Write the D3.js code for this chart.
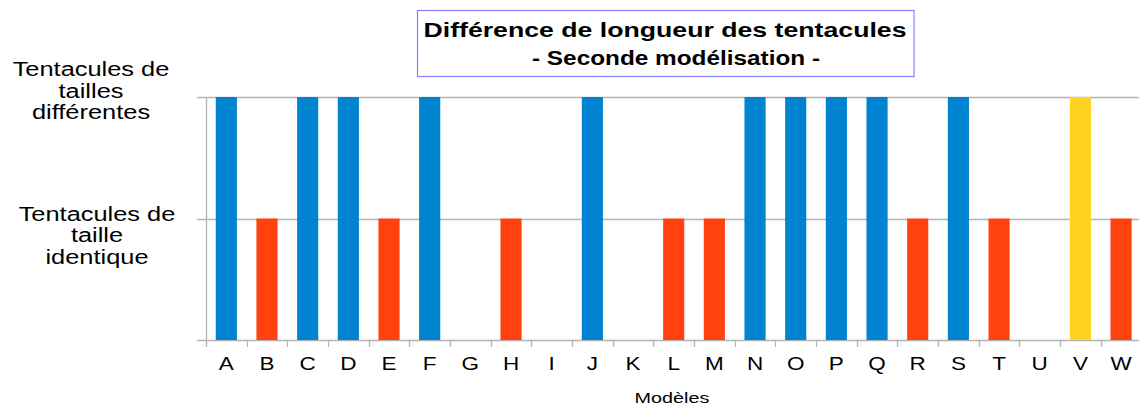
<!DOCTYPE html>
<html>
<head>
<meta charset="utf-8">
<script src="https://cdn.jsdelivr.net/npm/d3@7"></script>
<style>
  body { margin: 0; background: #fff; }
  text { font-family: "Liberation Sans", Arial, sans-serif; fill: #000; }
</style>
</head>
<body>
<svg id="svg"></svg>
<script>
// 0 = nothing, 1 = same size, 2 = different sizes
const models = ['A','B','C','D','E','F','G','H','I','J','K','L','M','N','O','P','Q','R','S','T','U','V','W'];
const values = [2, 1, 2, 2, 1, 2, 0, 1, 0, 2, 0, 1, 1, 2, 2, 2, 2, 1, 2, 1, 0, 2, 1];
const highlighted = ['V'];
const yTicks = [0, 1, 2];
const yTickLabels = {
  1: ['Tentacules de', 'taille', 'identique'],
  2: ['Tentacules de', 'tailles', 'différentes']
};
const titleLines = ['Différence de longueur des tentacules', '- Seconde modélisation -'];
const xTitle = 'Modèles';

const width = 1139, height = 406;
const blue = '#0084d1', red = '#ff420e', yellow = '#ffd320', grid = '#b3b3b3';

const svg = d3.select('#svg').attr('width', width).attr('height', height);

const x = d3.scaleBand().domain(models).range([206, 1141.4]).paddingInner(0.48).paddingOuter(0.24);
const xb = d3.scaleBand().domain(models).range([206, 1141.4]);
const y = d3.scaleLinear().domain([0, 2]).range([340, 97]);

// gridlines
svg.append('g').selectAll('line').data(yTicks).enter().append('line')
  .attr('x1', 197).attr('x2', width)
  .attr('y1', d => Math.round(y(d)) + 0.5).attr('y2', d => Math.round(y(d)) + 0.5)
  .attr('stroke', grid).attr('stroke-width', 1.3);

// y axis line
svg.append('line')
  .attr('x1', 206.5).attr('x2', 206.5)
  .attr('y1', y(2)).attr('y2', y(0) + 7)
  .attr('stroke', grid).attr('stroke-width', 1.3);

// x ticks at band boundaries
svg.append('g').selectAll('line').data(models.slice(1)).enter().append('line')
  .attr('x1', d => Math.round(xb(d)) + 0.5).attr('x2', d => Math.round(xb(d)) + 0.5)
  .attr('y1', y(0)).attr('y2', y(0) + 7)
  .attr('stroke', grid).attr('stroke-width', 1.3);

// bars
svg.append('g').selectAll('rect').data(models).enter().append('rect')
  .attr('x', d => x(d))
  .attr('width', x.bandwidth())
  .attr('y', (d, i) => y(values[i]))
  .attr('height', (d, i) => y(0) - y(values[i]))
  .attr('fill', (d, i) => highlighted.includes(d) ? yellow : (values[i] === 2 ? blue : red));

// category labels
svg.append('g').selectAll('text').data(models).enter().append('text')
  .attr('text-anchor', 'middle')
  .attr('font-size', 18)
  .attr('transform', d => `translate(${xb(d) + xb.bandwidth() / 2},369.5) scale(1.25,1)`)
  .text(d => d);

// x title
svg.append('text')
  .attr('text-anchor', 'middle')
  .attr('font-size', 15)
  .attr('transform', 'translate(672,403) scale(1.32,1)')
  .text(xTitle);

// y tick labels
const yLab = [
  { v: 2, cx: 91, dy: -21 },
  { v: 1, cx: 97, dy: 2 }
];
yLab.forEach(l => {
  yTickLabels[l.v].forEach((line, k) => {
    svg.append('text')
      .attr('text-anchor', 'middle')
      .attr('font-size', 20)
      .attr('transform', `translate(${l.cx},${y(l.v) + l.dy + k * 21.5}) scale(1.27,1)`)
      .text(line);
  });
});

// title box
svg.append('rect')
  .attr('x', 417.5).attr('y', 10.5).attr('width', 496.5).attr('height', 66)
  .attr('fill', '#fff').attr('stroke', '#8080ff').attr('stroke-width', 1.2);

svg.append('text')
  .attr('x', 423.5).attr('y', 37)
  .attr('font-family', '"Comic Sans MS", "DejaVu Sans", sans-serif')
  .attr('font-weight', 'bold').attr('font-size', 20)
  .attr('textLength', 483).attr('lengthAdjust', 'spacingAndGlyphs')
  .text(titleLines[0]);

svg.append('text')
  .attr('x', 532).attr('y', 64.5)
  .attr('font-family', '"Comic Sans MS", "DejaVu Sans", sans-serif')
  .attr('font-weight', 'bold').attr('font-size', 20)
  .attr('textLength', 288).attr('lengthAdjust', 'spacingAndGlyphs')
  .text(titleLines[1]);
</script>
</body>
</html>
